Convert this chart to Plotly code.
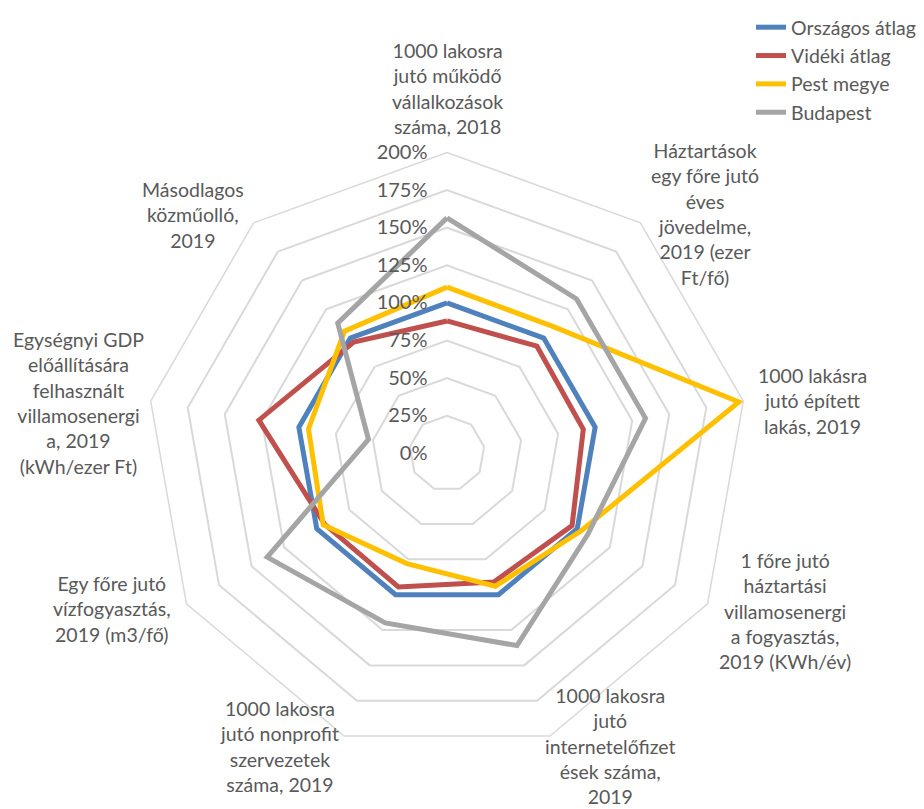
import plotly.graph_objects as go

# ---------------- data ----------------
categories = [
    "1000 lakosra jutó működő vállalkozások száma, 2018",
    "Háztartások egy főre jutó éves jövedelme, 2019 (ezer Ft/fő)",
    "1000 lakásra jutó épített lakás, 2019",
    "1 főre jutó háztartási villamosenergia fogyasztás, 2019 (KWh/év)",
    "1000 lakosra jutó internetelőfizetések száma, 2019",
    "1000 lakosra jutó nonprofit szervezetek száma, 2019",
    "Egy főre jutó vízfogyasztás, 2019 (m3/fő)",
    "Egységnyi GDP előállítására felhasznált villamosenergia, 2019 (kWh/ezer Ft)",
    "Másodlagos közműolló, 2019",
]
category_labels = [
    "1000 lakosra<br>jutó működő<br>vállalkozások<br>száma, 2018",
    "Háztartások<br>egy főre jutó<br>éves<br>jövedelme,<br>2019 (ezer<br>Ft/fő)",
    "1000 lakásra<br>jutó épített<br>lakás, 2019",
    "1 főre jutó<br>háztartási<br>villamosenergi<br>a fogyasztás,<br>2019 (KWh/év)",
    "1000 lakosra<br>jutó<br>internetelőfizet<br>ések száma,<br>2019",
    "1000 lakosra<br>jutó nonprofit<br>szervezetek<br>száma, 2019",
    "Egy főre jutó<br>vízfogyasztás,<br>2019 (m3/fő)",
    "Egységnyi GDP<br>előállítására<br>felhasznált<br>villamosenergi<br>a, 2019<br>(kWh/ezer Ft)",
    "Másodlagos<br>közműolló,<br>2019",
]
series_names = ["Országos átlag", "Vidéki átlag", "Pest megye", "Budapest"]
orszagos = [100, 100, 100, 100, 100, 100, 100, 100, 100]
videki = [88, 93, 92, 96, 91, 94.5, 94, 127, 96.5]
pest = [110.5, 110, 197, 103, 94, 78, 95, 93.5, 106]
budapest = [156.5, 134, 134, 108, 136, 120, 138, 53, 113]
radial_ticks = [0, 25, 50, 75, 100, 125, 150, 175, 200]
radial_tick_labels = ["0%", "25%", "50%", "75%", "100%", "125%", "150%", "175%", "200%"]

# ---------------- style / layout ----------------
OFF = 8                      # page body margin in the browser
W, H = 924 - OFF, 809 - OFF  # figure size so it fits the window
colors = ["#4F81BD", "#C0504D", "#FFC000", "#A5A5A5"]
text_color = "#595959"
grid_color = "#D9D9D9"
font_family = "Lato, 'Open Sans', sans-serif"
cx, cy, R = 447 - OFF, 452 - OFF, 302  # centre / outer radius in figure pixels
# label centres in window pixels (layout positions for the category labels)
label_pos = [(447, 86), (705, 212), (812, 399), (785, 610), (610, 746),
             (279, 746), (112, 608), (78, 401), (193, 213)]


def px_x(x):
    return (x - OFF) / W


def px_y(y):
    return 1 - (y - OFF) / H


fig = go.Figure()
for name, vals, col in zip(series_names, [orszagos, videki, pest, budapest], colors):
    fig.add_trace(go.Scatterpolar(
        r=vals + vals[:1],
        theta=categories + categories[:1],
        mode="lines",
        name=name,
        line=dict(color=col, width=5),
        hoverinfo="skip",
    ))

annotations = []
for txt, (px, py) in zip(category_labels, label_pos):
    annotations.append(dict(
        x=px_x(px), y=px_y(py), xref="paper", yref="paper",
        text=txt, showarrow=False, xanchor="center", yanchor="middle",
        align="center", font=dict(family=font_family, size=19.5, color=text_color),
    ))

fig.update_layout(
    width=W, height=H,
    margin=dict(l=0, r=0, t=0, b=0),
    paper_bgcolor="white", plot_bgcolor="white",
    font=dict(family=font_family, size=20, color=text_color),
    polar=dict(
        domain=dict(x=[(cx - R) / W, (cx + R) / W], y=[(H - cy - R) / H, (H - cy + R) / H]),
        gridshape="linear",
        bgcolor="white",
        angularaxis=dict(
            type="category", categoryarray=categories,
            direction="clockwise", rotation=90,
            showgrid=False, showticklabels=False, ticks="",
            showline=True, linecolor=grid_color, linewidth=1.5,
        ),
        radialaxis=dict(
            range=[0, 200], tickmode="array", tickvals=radial_ticks, ticktext=radial_tick_labels,
            angle=90, tickangle=90, side="counterclockwise",
            showline=False, gridcolor=grid_color, gridwidth=1.5,
            ticks="outside", ticklen=12, tickcolor="rgba(0,0,0,0)",
            tickfont=dict(family=font_family, size=20, color=text_color),
        ),
    ),
    legend=dict(
        x=px_x(751), y=px_y(5), xanchor="left", yanchor="top",
        font=dict(family=font_family, size=19.5, color=text_color),
        bgcolor="rgba(0,0,0,0)", tracegroupgap=0, itemwidth=30,
    ),
    annotations=annotations,
)

fig.write_html("out.html")
